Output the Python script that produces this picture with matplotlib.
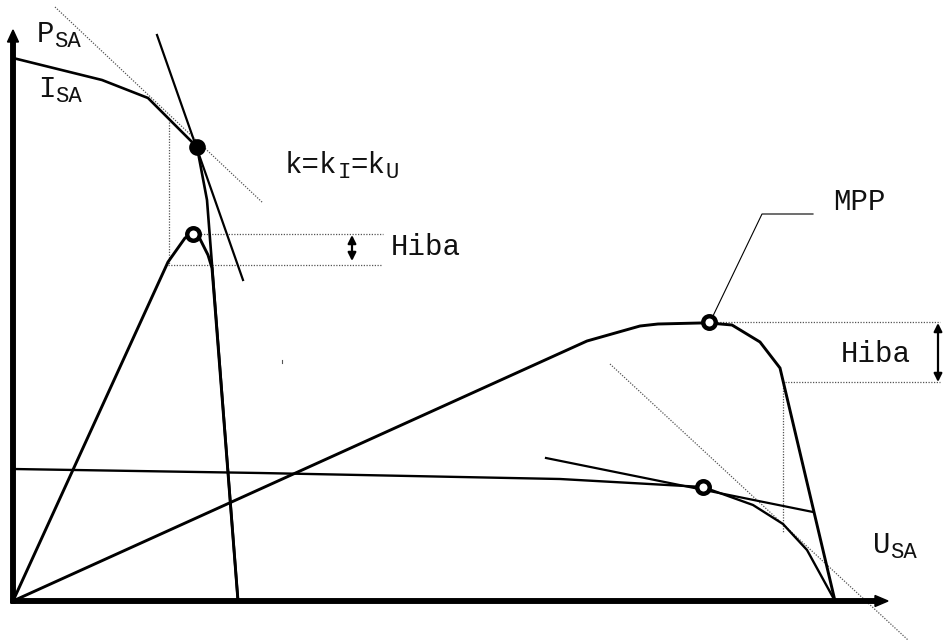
import matplotlib.pyplot as plt

plt.rcParams["font.family"] = "Liberation Mono"

# Characteristic at low voltage (steep cell curve): current and power
I1_U = [0, 89, 135, 184, 194, 225]
I1_I = [543, 521, 503, 454, 401, 0]
P1_U = [0, 155, 172, 180, 187, 195, 199, 225]
P1_P = [0, 339, 363, 367, 362, 346, 333, 0]

# Characteristic at high voltage: current and power
I2_U = [0, 247, 547, 690, 740, 770, 794, 822]
I2_I = [132, 128, 122, 114, 96, 77, 51, 0]
P2_U = [0, 574, 627, 645, 687, 696, 719, 747, 767, 822]
P2_P = [0, 260, 275, 277, 278, 278, 276, 259, 233, 0]

# Tangents at the working points
TAN1_U = [144, 230]
TAN1_I = [566, 321]
TAN2_U = [533, 800]
TAN2_I = [143, 89]
K1_U = [42, 250]
K1_I = [594, 398]
K2_U = [597, 895]
K2_I = [237, -39]

# Working points: (U, value)
OP_I1 = (184, 454)
OP_P1 = (180, 367)
OP_MPP = (696, 279)
OP_I2 = (690, 114)

U_MAX = 875
Y_MAX = 571

FS = 21
FS_SUB = 16
SUB_DROP = 5


def label(ax, x, y, parts):
    # monospace text with subscripts; axes units are pixels here
    for text, sub in parts:
        size = FS_SUB if sub else FS
        ax.text(x, y - (SUB_DROP if sub else 0), text, fontsize=size,
                ha="left", va="baseline", color="#111111")
        x += len(text) * 0.6 * size * 100 / 72


fig = plt.figure(figsize=(9.43, 6.41), dpi=100)
ax = fig.add_axes([0, 0, 1, 1])
ax.set_xlim(-13, 930)
ax.set_ylim(-40, 601)
ax.axis("off")

dot = dict(color="#555555", lw=0.9, ls=(0, (1, 1.2)))

# dotted helper lines
ax.plot(K1_U, K1_I, **dot)
ax.plot(K2_U, K2_I, **dot)
ax.plot([156, 156], [479, 336], **dot)
ax.plot([OP_P1[0] + 5, 370], [OP_P1[1], OP_P1[1]], **dot)
ax.plot([155, 369], [336, 336], **dot)
ax.plot([OP_MPP[0] + 8, 927], [OP_MPP[1], OP_MPP[1]], **dot)
ax.plot([772, 927], [219, 219], **dot)
ax.plot([770, 770], [219, 69], **dot)
ax.plot([269, 269], [238, 241], color="#555555", lw=0.8)

# axes
ax.arrow(0, -2, 0, Y_MAX + 2, width=4.5, head_width=11, head_length=12,
         length_includes_head=True, color="black", zorder=5)
ax.arrow(-2, 0, U_MAX + 2, 0, width=4.5, head_width=11, head_length=13,
         length_includes_head=True, color="black", zorder=5)

# curves
ax.plot(I1_U, I1_I, color="black", lw=1.9, solid_joinstyle="miter")
ax.plot(P1_U, P1_P, color="black", lw=2.1, solid_joinstyle="miter")
ax.plot(I2_U, I2_I, color="black", lw=1.7, solid_joinstyle="miter")
ax.plot(P2_U, P2_P, color="black", lw=2.1, solid_joinstyle="miter")
ax.plot(TAN1_U, TAN1_I, color="black", lw=1.6)
ax.plot(TAN2_U, TAN2_I, color="black", lw=1.6)

# working points
ax.plot(*OP_I1, marker="o", ms=9, mfc="black", mec="black", mew=3, zorder=6)
for pt in (OP_P1, OP_MPP, OP_I2):
    ax.plot(*pt, marker="o", ms=9, mfc="white", mec="black", mew=3.2, zorder=6)

# MPP leader
ax.plot([OP_MPP[0] + 3, 749, 800], [OP_MPP[1] + 4, 387, 387], color="black", lw=0.8)

# error ranges
arr = dict(arrowstyle="<|-|>", color="black", lw=1.6, mutation_scale=12,
           shrinkA=0, shrinkB=0)
ax.annotate("", xy=(339, 366), xytext=(339, 340), arrowprops=arr)
ax.annotate("", xy=(925, 278), xytext=(925, 219), arrowprops=arr)

label(ax, 378, 346, [("Hiba", False)])
label(ax, 828, 239, [("Hiba", False)])
label(ax, 820, 391, [("MPP", False)])
label(ax, 272, 428, [("k=k", False), ("I", True), ("=k", False), ("U", True)])
label(ax, 24, 559, [("P", False), ("SA", True)])
label(ax, 25, 504, [("I", False), ("SA", True)])
label(ax, 860, 48, [("U", False), ("SA", True)])

fig.savefig("out.png", dpi=100)
